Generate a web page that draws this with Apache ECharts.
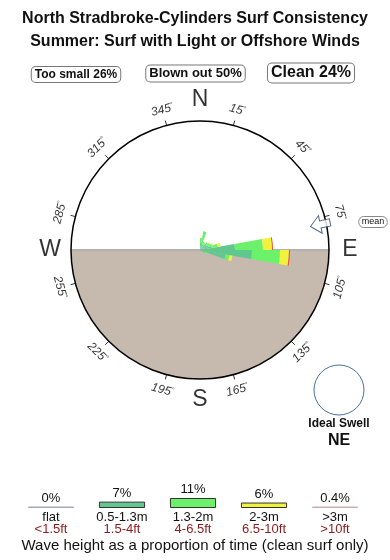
<!DOCTYPE html>
<html><head><meta charset="utf-8">
<script src="https://cdn.jsdelivr.net/npm/echarts@6/dist/echarts.min.js"></script>
<style>html,body{margin:0;padding:0;background:#fff}#c{width:390px;height:560px}</style>
</head><body><div id="c"></div>
<script>
// ---------- data ----------
const titleLines = ['North Stradbroke-Cylinders Surf Consistency', 'Summer: Surf with Light or Offshore Winds'];
const breakdownLabels = ['Too small 26%', 'Blown out 50%', 'Clean 24%'];
const sizeCats = ['flat', '0.5-1.3m', '1.3-2m', '2-3m', '>3m'];
const sizeFeet = ['<1.5ft', '1.5-4ft', '4-6.5ft', '6.5-10ft', '>10ft'];
const sizePercent = [0, 7, 11, 6, 0.4];
const sizePctLabels = ['0%', '7%', '11%', '6%', '0.4%'];
// 10-degree direction bins (0-10, 10-20, ... 350-360)
const dirBins = ['0','10','20','30','40','50','60','70','80','90','100','110','120','130','140','150','160','170',
  '180','190','200','210','220','230','240','250','260','270','280','290','300','310','320','330','340','350'];
// stacked radial lengths per bin and wave-size class
const roseFlat = [0,0,0,0,0,0,0,0,0,0,0,0,0,0,0,0,0,0,0,0,0,0,0,0,0,0,0,0,0,0,0,0,0,0,0,0];
const rose05   = [6,8,6,6,7,8,9,12,35,52,26,6,3,0,0,0,0,0,0,0,0,0,0,0,0,0,0,0,0,0,0,0,0,0,0,0];
const rose13   = [6,11,3,2,3,3,4,6,28,28,4,2,0,0,0,0,0,0,0,0,0,0,0,0,0,0,0,0,0,0,0,0,0,0,0,0];
const rose2    = [0,0,0,0,0,1,1,3,9,9,3,0,0,0,0,0,0,0,0,0,0,0,0,0,0,0,0,0,0,0,0,0,0,0,0,0];
const rose3    = [0,0,0,0,0,0,0,0,1,1,0,0,0,0,0,0,0,0,0,0,0,0,0,0,0,0,0,0,0,0,0,0,0,0,0,0];
const degreeTicks = [15,45,75,105,135,165,195,225,255,285,315,345];
const compassLetters = ['N','E','S','W'];
const compassBearings = [0,90,180,270];
const meanDirection = 78;
const idealSwell = 'NE';

// ---------- styles ----------
const FONT = '"Liberation Sans", Arial, Helvetica, sans-serif';
const C = {cx:200, cy:250, R:129};
const roseColors = ['#a0a0b8', '#60c78e', '#6cf26a', '#f2f23c', '#e8502c'];
const legendColors = ['#a6a6ba', '#60c78e', '#6cf26a', '#f2f23c', '#c8b0b0'];

const chart = echarts.init(document.getElementById('c'), null, {renderer:'canvas'});

function degRot(b){ return (b < 90 || b > 270) ? -b : 180 - b; }

const roseSeries = [roseFlat, rose05, rose13, rose2, rose3].map((arr, i) => ({
  type:'bar', coordinateSystem:'polar', polarIndex:2, stack:'rose', data:arr,
  barCategoryGap:'0%', itemStyle:{color:roseColors[i]}, silent:true, z:3
}));

const boxStyles = [
  {x:76, y:74.5, size:12},
  {x:195.5, y:73.5, size:13},
  {x:311, y:73, size:16}
];

const option = {
  animation:false,
  backgroundColor:'#fff',
  textStyle:{fontFamily:FONT},
  polar:[
    {center:[C.cx, C.cy], radius:150},
    {center:[C.cx, C.cy], radius:C.R},
    {center:[C.cx, C.cy], radius:C.R}
  ],
  angleAxis:[
    {polarIndex:0, type:'value', min:0, max:360, startAngle:90, clockwise:true, show:false},
    {polarIndex:1, type:'value', min:0, max:360, interval:30, startAngle:75, clockwise:true, z:5,
      axisLine:{show:true, lineStyle:{color:'#000', width:1.5}},
      axisTick:{show:true, length:5, lineStyle:{color:'#333', width:1}},
      axisLabel:{show:false}, splitLine:{show:false}},
    {polarIndex:2, type:'category', data:dirBins, startAngle:90, clockwise:true, boundaryGap:true, show:false}
  ],
  radiusAxis:[
    {polarIndex:0, type:'value', min:0, max:150, show:false},
    {polarIndex:1, type:'value', min:0, max:C.R, show:false},
    {polarIndex:2, type:'value', min:0, max:C.R, show:false}
  ],
  grid:{left:15.5, width:355, bottom:52, height:50},
  xAxis:{type:'category', data:sizeCats, axisLine:{show:false}, axisTick:{show:false},
    axisLabel:{margin:3, interval:0,
      formatter:(v, i) => '{a|' + v + '}\n{b|' + sizeFeet[i] + '}',
      rich:{a:{fontSize:13, color:'#111', lineHeight:12.5, fontFamily:FONT},
            b:{fontSize:13, color:'#8b1a1a', lineHeight:12.5, fontFamily:FONT}}}},
  yAxis:{type:'value', min:0, max:55, show:false},
  series:[
    {type:'pie', center:[C.cx, C.cy], radius:C.R, startAngle:0, clockwise:true, silent:true, z:1,
      label:{show:false}, labelLine:{show:false},
      data:[{value:180, name:'land', itemStyle:{color:'#c5baad'}},
            {value:180, name:'sea', itemStyle:{color:'rgba(0,0,0,0)'}}]},
    {type:'line', coordinateSystem:'polar', polarIndex:0, symbol:'none', silent:true, z:2,
      lineStyle:{color:'#b2b2b2', width:2}, data:[[C.R, 90], [C.R, 270]]},
    ...roseSeries,
    {type:'scatter', coordinateSystem:'polar', polarIndex:0, symbolSize:1, silent:true, z:6,
      itemStyle:{color:'rgba(0,0,0,0)'},
      data:degreeTicks.map(b => ({value:[145, b],
        label:{show:true, position:'inside', rotate:degRot(b),
          formatter:'{n|' + b + '}{d|°}'}})),
      label:{show:true, rich:{n:{fontSize:12, fontStyle:'italic', color:'#000', fontFamily:FONT},
                              d:{fontSize:7, color:'#000', verticalAlign:'top', fontFamily:FONT}}}},
    {type:'scatter', coordinateSystem:'polar', polarIndex:0, symbolSize:1, silent:true, z:6,
      itemStyle:{color:'rgba(0,0,0,0)'},
      data:compassLetters.map((t, i) => ({value:[150, compassBearings[i]], name:t})),
      label:{show:true, position:'inside', formatter:'{b}', fontSize:23, color:'#000', fontFamily:FONT}},
    {type:'scatter', coordinateSystem:'polar', polarIndex:0, silent:true, z:7,
      symbol:'path://M10,0 L20,10 L14,10 L14,20 L6,20 L6,10 L0,10 Z',
      symbolSize:[18,20], symbolRotate:180 - meanDirection,
      itemStyle:{color:'#fff', borderColor:'#2d4b6e', borderWidth:1},
      data:[[123, meanDirection]]},
    {type:'bar', data:sizePercent.map((v, i) => ({value:v,
        itemStyle:{color:legendColors[i], borderColor:(i >= 1 && i <= 3) ? '#333' : legendColors[i], borderWidth:1}})),
      barWidth:'65%', barMinHeight:1.5, silent:true,
      label:{show:true, position:'top', distance:2, fontSize:13, color:'#111', fontFamily:FONT,
        formatter:p => sizePctLabels[p.dataIndex]}}
  ],
  graphic:[
    {type:'text', left:'center', top:11, style:{text:titleLines[0], font:'bold 16px ' + FONT, fill:'#111'}},
    {type:'text', left:'center', top:34, style:{text:titleLines[1], font:'bold 16px ' + FONT, fill:'#111'}},
    ...breakdownLabels.map((t, i) => ({type:'text', x:boxStyles[i].x, y:boxStyles[i].y,
      style:{text:t, font:'bold ' + boxStyles[i].size + 'px ' + FONT, fill:'#111', align:'center', verticalAlign:'middle',
        borderColor:'#777', borderWidth:1, borderRadius:4, padding:[2,3,1,3], backgroundColor:'#fff'}})),
    {type:'text', x:373, y:222, style:{text:'mean', font:'9px ' + FONT, fill:'#111', align:'center', verticalAlign:'middle',
      borderColor:'#888', borderWidth:1, borderRadius:5, padding:[1,3,1,3]}},
    {type:'circle', shape:{cx:339, cy:390, r:25}, style:{fill:'none', stroke:'#4a6f9e', lineWidth:1}},
    {type:'text', x:339, y:424, style:{text:'Ideal Swell', font:'bold 12px ' + FONT, fill:'#111', align:'center', verticalAlign:'middle'}},
    {type:'text', x:339, y:441, style:{text:idealSwell, font:'bold 16px ' + FONT, fill:'#111', align:'center', verticalAlign:'middle'}},
    {type:'text', left:'center', top:538, style:{text:'Wave height as a proportion of time (clean surf only)', font:'15px ' + FONT, fill:'#111'}}
  ]
};
chart.setOption(option);
</script></body></html>
